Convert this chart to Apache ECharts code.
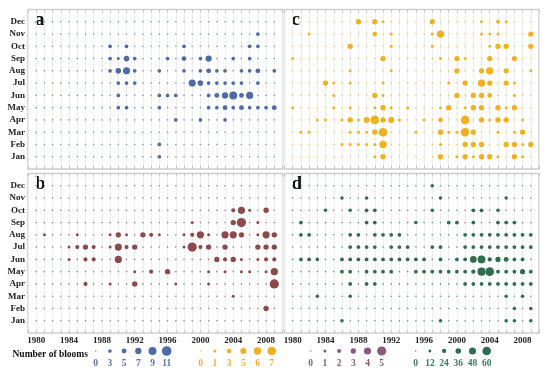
<!DOCTYPE html>
<html><head><meta charset="utf-8">
<script src="https://cdn.jsdelivr.net/npm/echarts@6/dist/echarts.min.js"></script>
<style>html,body{margin:0;padding:0;background:#fff}#c{width:550px;height:374px}</style>
</head><body><div id="c"></div>
<script>
// ---------- categories ----------
const months = ['Jan','Feb','Mar','Apr','May','Jun','Jul','Aug','Sep','Oct','Nov','Dec'];
const firstYear = 1980, lastYear = 2009;
const xTickLabels = ['1980','1984','1988','1992','1996','2000','2004','2008'];

// ---------- data: [year, month, number of blooms] (cells not listed = 0) ----------
const bloomsA = [
  [2007,'Nov',3],
  [1989,'Oct',3],[1991,'Oct',3],[1998,'Oct',3],[2006,'Oct',3],[2007,'Oct',3],
  [1989,'Sep',3],[1990,'Sep',2],[1991,'Sep',6],[1992,'Sep',3],[1996,'Sep',3],[1998,'Sep',5],[2000,'Sep',3],[2001,'Sep',7],[2004,'Sep',3],[2006,'Sep',3],
  [1989,'Aug',3],[1990,'Aug',6],[1991,'Aug',8],[1992,'Aug',3],[1995,'Aug',3],[1998,'Aug',3],[2000,'Aug',3],[2001,'Aug',5],[2002,'Aug',3],[2003,'Aug',3],[2005,'Aug',3],[2006,'Aug',3],[2007,'Aug',5],[2009,'Aug',3],
  [1990,'Jul',3],[1991,'Jul',3],[1992,'Jul',3],[1999,'Jul',8],[2000,'Jul',6],[2001,'Jul',3],[2002,'Jul',3],[2003,'Jul',3],[2004,'Jul',3],[2005,'Jul',3],[2007,'Jul',3],
  [1990,'Jun',3],[1995,'Jun',3],[1996,'Jun',3],[1997,'Jun',3],[2001,'Jun',3],[2002,'Jun',5],[2003,'Jun',7],[2004,'Jun',9],[2005,'Jun',5],[2006,'Jun',8],
  [1990,'May',3],[1991,'May',3],[1995,'May',3],[2001,'May',3],[2002,'May',3],[2003,'May',5],[2004,'May',3],[2005,'May',5],[2006,'May',3],[2007,'May',3],[2008,'May',3],[2009,'May',5],
  [1997,'Apr',3],[2000,'Apr',3],[2003,'Apr',3],
  [1995,'Feb',3],[1995,'Jan',3]
];
const bloomsB = [
  [2004,'Oct',2],[2005,'Oct',4],[2006,'Oct',1],[2008,'Oct',3],
  [1999,'Sep',1],[2004,'Sep',3],[2005,'Sep',5],[2007,'Sep',1],
  [1981,'Aug',1],[1985,'Aug',1],[1989,'Aug',1],[1990,'Aug',3],[1991,'Aug',1],[1993,'Aug',3],[1994,'Aug',2],[1995,'Aug',1],[1998,'Aug',1],[1999,'Aug',2],[2000,'Aug',4],[2001,'Aug',1],[2003,'Aug',4],[2004,'Aug',4],[2005,'Aug',3],[2007,'Aug',1],[2008,'Aug',4],[2009,'Aug',3],
  [1984,'Jul',1],[1985,'Jul',2],[1986,'Jul',3],[1987,'Jul',2],[1989,'Jul',1],[1990,'Jul',4],[1991,'Jul',2],[1992,'Jul',3],[1998,'Jul',1],[1999,'Jul',5],[2000,'Jul',2],[2001,'Jul',3],[2003,'Jul',3],[2007,'Jul',3],[2008,'Jul',3],[2009,'Jul',3],
  [1984,'Jun',1],[1986,'Jun',2],[1987,'Jun',2],[1990,'Jun',4],[2002,'Jun',3],[2003,'Jun',2],[2004,'Jun',3],[2005,'Jun',1],[2007,'Jun',1],[2008,'Jun',2],[2009,'Jun',2],
  [1992,'May',1],[1994,'May',2],[1996,'May',3],[2001,'May',1],[2003,'May',1],[2005,'May',1],[2006,'May',1],[2008,'May',1],[2009,'May',4],
  [1986,'Apr',2],[1989,'Apr',1],[1992,'Apr',3],[1997,'Apr',1],[2001,'Apr',1],[2009,'Apr',5],
  [2004,'Mar',1],
  [2008,'Feb',3]
];
const bloomsC = [
  [1988,'Dec',4],[1990,'Dec',4],[1991,'Dec',1],[1997,'Dec',4],[2003,'Dec',1],[2005,'Dec',2],[2006,'Dec',1],
  [1982,'Nov',1],[1990,'Nov',3],[1992,'Nov',1],[1997,'Nov',1],[1998,'Nov',6],[2003,'Nov',1],[2004,'Nov',1],[2005,'Nov',1],[2009,'Nov',4],
  [1987,'Oct',4],[1992,'Oct',1],[1997,'Oct',1],[2004,'Oct',1],[2005,'Oct',4],[2006,'Oct',4],[2009,'Oct',4],
  [1980,'Sep',1],[1991,'Sep',4],[1998,'Sep',1],[2000,'Sep',4],[2001,'Sep',1],[2004,'Sep',4],[2007,'Sep',4],
  [1987,'Aug',1],[1992,'Aug',1],[2000,'Aug',4],[2003,'Aug',4],[2004,'Aug',6],[2006,'Aug',4],[2009,'Aug',1],
  [1984,'Jul',4],[1985,'Jul',1],[1987,'Jul',1],[1991,'Jul',1],[1999,'Jul',1],[2001,'Jul',4],[2003,'Jul',6],[2004,'Jul',4],[2006,'Jul',4],[2007,'Jul',1],
  [1985,'Jun',1],[1990,'Jun',4],[1991,'Jun',1],[2000,'Jun',4],[2002,'Jun',4],[2003,'Jun',4],[2004,'Jun',3],[2007,'Jun',1],
  [1980,'May',1],[1985,'May',1],[1987,'May',1],[1990,'May',1],[1991,'May',4],[1992,'May',1],[1994,'May',1],[1998,'May',1],[1999,'May',4],[2001,'May',1],[2002,'May',4],[2003,'May',4],[2005,'May',4],[2006,'May',1],[2007,'May',4],
  [1983,'Apr',1],[1984,'Apr',1],[1986,'Apr',1],[1987,'Apr',4],[1988,'Apr',1],[1989,'Apr',5],[1990,'Apr',7],[1991,'Apr',4],[1992,'Apr',5],[1993,'Apr',1],[1996,'Apr',1],[1998,'Apr',3],[2001,'Apr',7],[2003,'Apr',4],[2004,'Apr',1],[2005,'Apr',4],[2006,'Apr',4],[2008,'Apr',1],
  [1981,'Mar',1],[1982,'Mar',1],[1987,'Mar',1],[1988,'Mar',1],[1989,'Mar',1],[1990,'Mar',4],[1991,'Mar',7],[1995,'Mar',1],[1998,'Mar',4],[1999,'Mar',1],[2000,'Mar',1],[2001,'Mar',7],[2002,'Mar',4],[2005,'Mar',1],[2007,'Mar',1],[2008,'Mar',4],
  [1986,'Feb',1],[1987,'Feb',1],[1988,'Feb',1],[1989,'Feb',1],[1990,'Feb',1],[1991,'Feb',6],[1998,'Feb',1],[2001,'Feb',4],[2002,'Feb',4],[2003,'Feb',4],[2006,'Feb',4],[2007,'Feb',4],[2008,'Feb',1],[2009,'Feb',4],
  [1990,'Jan',1],[1991,'Jan',4],[1998,'Jan',4],[2000,'Jan',1],[2001,'Jan',4],[2002,'Jan',1],[2003,'Jan',4],[2004,'Jan',4],[2005,'Jan',1],[2007,'Jan',4],[2008,'Jan',1]
];
const bloomsD = [
  [1997,'Dec',18],
  [1986,'Nov',18],[1989,'Nov',18],[1998,'Nov',18],[2006,'Nov',18],
  [1984,'Oct',18],[1987,'Oct',18],[1989,'Oct',20],[1990,'Oct',20],[1997,'Oct',18],[2002,'Oct',20],[2003,'Oct',20],[2005,'Oct',18],
  [1981,'Sep',20],[1989,'Sep',20],[1990,'Sep',20],[1995,'Sep',18],[1999,'Sep',20],[2000,'Sep',20],[2002,'Sep',20],[2005,'Sep',20],[2006,'Sep',20],[2007,'Sep',20],
  [1981,'Aug',20],[1982,'Aug',20],[1987,'Aug',20],[1988,'Aug',20],[1990,'Aug',20],[1991,'Aug',20],[1992,'Aug',20],[1993,'Aug',20],[2001,'Aug',20],[2002,'Aug',20],[2003,'Aug',20],[2004,'Aug',20],[2005,'Aug',20],[2006,'Aug',20],[2007,'Aug',20],[2008,'Aug',20],[2009,'Aug',20],
  [1987,'Jul',20],[1988,'Jul',20],[1989,'Jul',20],[1990,'Jul',20],[1992,'Jul',20],[1993,'Jul',20],[1994,'Jul',20],[1997,'Jul',20],[1998,'Jul',20],[2001,'Jul',20],[2002,'Jul',20],[2003,'Jul',20],[2004,'Jul',20],[2005,'Jul',20],[2006,'Jul',20],[2007,'Jul',20],[2008,'Jul',20],[2009,'Jul',20],
  [1981,'Jun',20],[1982,'Jun',20],[1983,'Jun',18],[1986,'Jun',20],[1987,'Jun',20],[1988,'Jun',20],[1989,'Jun',20],[1990,'Jun',20],[1991,'Jun',20],[1992,'Jun',20],[1993,'Jun',20],[1994,'Jun',20],[1995,'Jun',20],[1996,'Jun',20],[1998,'Jun',20],[2000,'Jun',20],[2001,'Jun',20],[2002,'Jun',46],[2003,'Jun',54],[2004,'Jun',24],[2005,'Jun',32],[2006,'Jun',30],[2007,'Jun',20],[2008,'Jun',20],
  [1986,'May',20],[1987,'May',20],[1989,'May',20],[1990,'May',20],[1991,'May',20],[1992,'May',20],[1995,'May',20],[1996,'May',20],[1997,'May',20],[1998,'May',20],[1999,'May',20],[2000,'May',20],[2001,'May',20],[2002,'May',24],[2003,'May',56],[2004,'May',60],[2005,'May',20],[2006,'May',20],[2007,'May',20],[2008,'May',32],[2009,'May',20],
  [1987,'Apr',20],[1989,'Apr',20],[1990,'Apr',20],[2001,'Apr',20],[2002,'Apr',20],[2003,'Apr',20],[2004,'Apr',20],[2005,'Apr',20],[2006,'Apr',20],[2007,'Apr',20],[2008,'Apr',20],[2009,'Apr',20],
  [1983,'Mar',18],[1987,'Mar',18],[2006,'Mar',18],[2008,'Mar',18],
  [2007,'Feb',18],[2009,'Feb',18],
  [1986,'Jan',18],[1998,'Jan',18],[2006,'Jan',18],[2007,'Jan',18],[2009,'Jan',18]
];

// ---------- legend tick labels ----------
const legendValsA = [0,3,5,7,9,11];
const legendValsC = [0,1,3,5,6,7];
const legendValsB = [0,1,2,3,4,5];
const legendValsD = [0,12,24,36,48,60];

// ---------- styles ----------
const SERIF = '"Liberation Serif","Times New Roman",serif';
const panels = [
  {key:'a', data:bloomsA, color:'#4f6ba7', legendColor:'#4f6ba7', labelColor:'#5b72aa', legendVals:legendValsA, sizes:[1.6,3.7,4.9,6.3,8.0,9.6], grid:{left:28,top:9.5}, showX:false, showY:true, legendStart:95.7},
  {key:'b', data:bloomsB, color:'#8c4a4d', legendColor:'#8a5a78', labelColor:'#8e5a6a', legendVals:legendValsB, sizes:[1.6,3.0,4.1,5.4,7.2,9.2], grid:{left:28,top:173.5}, showX:true, showY:true, legendStart:310.7},
  {key:'c', data:bloomsC, color:'#f0b020', legendColor:'#f0b020', labelColor:'#f0b030', legendVals:legendValsC, sizes:[1.6,3.0,4.6,6.0,7.3,8.6], grid:{left:284.5,top:9.5}, showX:false, showY:false, legendStart:200.7},
  {key:'d', data:bloomsD, color:'#2e6d4e', legendColor:'#2e6d4e', labelColor:'#3d7a5c', legendVals:legendValsD, sizes:[1.6,2.8,4.3,5.6,7.0,8.6], grid:{left:284.5,top:173.5}, showX:true, showY:false, legendStart:415.7}
];
const GW = 254.5, GH = 159.5, LEG_STEP = 14.2;

function sizeOf(p, v){
  const vals = p.legendVals, s = p.sizes;
  if (v <= vals[0]) return s[0];
  for (let i=1;i<vals.length;i++){
    if (v <= vals[i]) { const t=(v-vals[i-1])/(vals[i]-vals[i-1]); return s[i-1]+t*(s[i]-s[i-1]); }
  }
  const n=vals.length-1; return s[n] + (v-vals[n])*(s[n]-s[n-1])/(vals[n]-vals[n-1]);
}

const grid=[], xAxis=[], yAxis=[], series=[], graphic=[];
panels.forEach((p, gi) => {
  grid.push({left:p.grid.left, top:p.grid.top, width:GW, height:GH, show:true, borderColor:'#cdcdcd', borderWidth:1.5, backgroundColor:'transparent'});
  const tickStyle = {show:true, inside:true, length:3, lineStyle:{color:'#c4c4c4', width:1}};
  xAxis.push({gridIndex:gi, type:'value', min:firstYear-1, max:lastYear+1, interval:1, position:'bottom',
    axisLine:{show:false}, axisTick:tickStyle,
    splitLine:{show:true, lineStyle:{color:'#ededed', width:1}},
    axisLabel:{show:p.showX, margin:3, fontFamily:SERIF, fontWeight:'bold', fontSize:9, color:'#222',
      formatter:v => xTickLabels.indexOf(String(v))>=0 ? String(v) : ''}});
  xAxis.push({gridIndex:gi, type:'value', min:firstYear-1, max:lastYear+1, interval:1, position:'top',
    axisLine:{show:false}, axisTick:tickStyle, splitLine:{show:false}, axisLabel:{show:false}});
  yAxis.push({gridIndex:gi, type:'value', min:0, max:13, interval:1,
    axisLine:{show:false}, axisTick:{show:false}, splitLine:{show:false},
    axisLabel:{show:p.showY, margin:3, fontFamily:SERIF, fontWeight:'bold', fontSize:9, color:'#222',
      formatter:v => months[v-1] || ''}});
  const lookup = {};
  p.data.forEach(([y,m,v]) => { lookup[y+'_'+m] = v; });
  const zeros=[], vals=[];
  for (let y=firstYear;y<=lastYear;y++){
    months.forEach((m, mi) => {
      const v = lookup[y+'_'+m] || 0;
      (v>0 ? vals : zeros).push([y, mi+1, v]);
    });
  }
  series.push({type:'scatter', xAxisIndex:gi*2, yAxisIndex:gi, data:zeros, symbol:'circle',
    symbolSize:d => sizeOf(p, d[2]), itemStyle:{color:p.color, opacity:0.7}, silent:true, animation:false});
  series.push({type:'scatter', xAxisIndex:gi*2, yAxisIndex:gi, data:vals, symbol:'circle',
    symbolSize:d => sizeOf(p, d[2]), itemStyle:{color:p.color, opacity:1}, silent:true, animation:false});
  // panel letter
  graphic.push({type:'text', left:p.grid.left+7, top:p.grid.top+1,
    style:{text:p.key, fontFamily:SERIF, fontWeight:'bold', fontSize:19, fill:'#111'}});
  // legend
  p.legendVals.forEach((v, i) => {
    const cx = p.legendStart + i*LEG_STEP;
    const r = sizeOf(p, v)/2;
    graphic.push({type:'circle', shape:{cx:cx, cy:351, r:r}, style:{fill:p.legendColor, opacity: v===0?0.75:1}});
    graphic.push({type:'text', x:cx, y:364, style:{text:String(v), fontFamily:SERIF, fontWeight:'bold', fontSize:9.5,
      fill:p.labelColor, align:'center', verticalAlign:'middle'}});
  });
});
graphic.push({type:'text', x:12.5, y:355, style:{text:'Number of blooms', fontFamily:SERIF, fontWeight:'bold', fontSize:9.5, fill:'#111', verticalAlign:'middle'}});

const chart = echarts.init(document.getElementById('c'), null, {renderer:'canvas'});
chart.setOption({animation:false, backgroundColor:'#fff', grid, xAxis, yAxis, series, graphic});
</script></body></html>
